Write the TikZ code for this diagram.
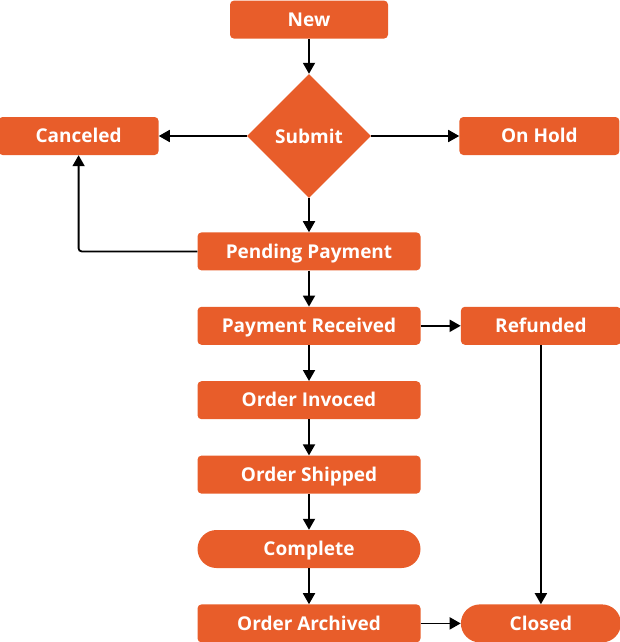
\documentclass[tikz,border=0pt]{standalone}
\usepackage{fontspec}
\setmainfont{Open Sans}
\usepackage{tikz}
\usetikzlibrary{shapes.geometric,arrows.meta,positioning}

\definecolor{orderorange}{HTML}{E85D2A}

\begin{document}
\begin{tikzpicture}[x=1pt, y=1pt,
    font=\fontsize{19}{21}\selectfont\bfseries, node distance=36pt,
    state/.style={fill=orderorange, text=white, rounded corners=4pt,
      minimum width=223pt, minimum height=38pt, inner sep=0pt,
      text height=13.5pt, text depth=0pt},
    side/.style={state, minimum width=160pt},
    pill/.style={rounded corners=19pt},
    decide/.style={diamond, fill=orderorange, text=white,
      minimum size=124pt, inner sep=0pt},
    flow/.style={line width=1.8pt, -{Triangle[length=11pt, width=12pt]}}]
  \useasboundingbox (0,0) rectangle (619,-642);

  \node[decide] (submit) at (309,-136) {Submit};
  \node[side, minimum width=158pt, above=35pt of submit] (new) {New};
  \node[side, left=88pt of submit] (canceled) {Canceled};
  \node[side, right=88pt of submit] (onhold) {On Hold};

  \node[state, below=34pt of submit] (pending) {Pending Payment};
  \node[state, below=of pending] (received) {Payment Received};
  \node[side, right=40pt of received] (refunded) {Refunded};
  \node[state, below=of received] (invoiced) {Order Invoced};
  \node[state, below=of invoiced] (shipped) {Order Shipped};
  \node[state, pill, below=of shipped] (complete) {Complete};
  \node[state, below=of complete] (archived) {Order Archived};
  \node[side, pill, right=40pt of archived] (closed) {Closed};

  \draw[flow] (new) -- (submit);
  \draw[flow] (submit) -- (canceled);
  \draw[flow] (submit) -- (onhold);
  \draw[flow] (submit) -- (pending);
  \draw[flow, rounded corners=3pt] (pending.west) -| (canceled.south);
  \draw[flow] (pending) -- (received);
  \draw[flow] (received) -- (refunded);
  \draw[flow] (received) -- (invoiced);
  \draw[flow] (invoiced) -- (shipped);
  \draw[flow] (shipped) -- (complete);
  \draw[flow] (complete) -- (archived);
  \draw[flow] (archived) -- (closed);
  \draw[flow] (refunded) -- (closed);
\end{tikzpicture}
\end{document}
